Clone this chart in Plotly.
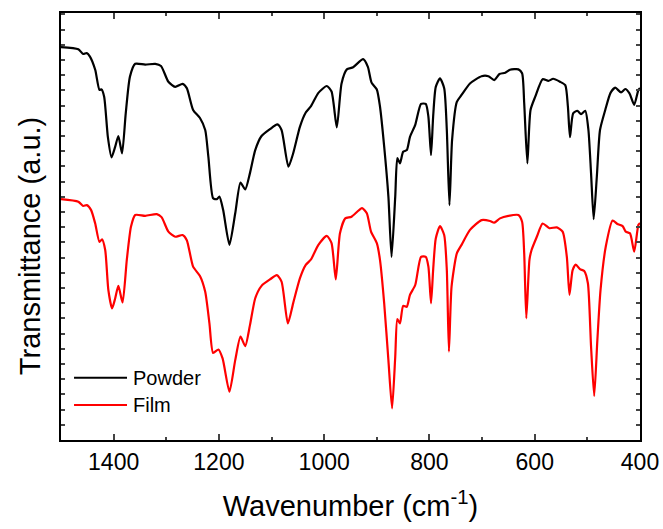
import plotly.graph_objects as go

# Wavenumber (cm^-1) and transmittance (a.u.)
powder_wn = [1500, 1467, 1458, 1451, 1445, 1435, 1427, 1423, 1418, 1411, 1404, 1397, 1391, 1384,
             1377, 1369, 1359, 1340, 1321, 1310, 1296, 1283, 1269, 1261, 1249, 1236, 1226, 1220,
             1211, 1204, 1199, 1192, 1180, 1169, 1159, 1150, 1141, 1131, 1119, 1103, 1089, 1081,
             1068, 1059, 1046, 1035, 1025, 1011, 995, 986, 976, 967, 957, 945, 926, 917, 910, 900,
             894, 886, 878, 872, 865, 861, 856, 850, 843, 837, 827, 816, 807, 802, 797, 793, 788,
             780, 772, 767, 762, 757, 748, 739, 723, 701, 688, 677, 667, 656, 647, 631, 624, 620,
             614, 608, 599, 585, 574, 565, 552, 542, 537, 533, 527, 519, 512, 504, 498, 493, 488,
             482, 476, 466, 456, 447, 436, 428, 420, 411, 403, 400]
powder_t = [92.0, 91.5, 90.4, 90.6, 89.8, 86.7, 82.0, 82.1, 80.4, 71.0, 66.2, 68.7, 71.2, 67.1,
            76.5, 85.1, 88.1, 87.9, 88.1, 87.6, 83.9, 82.7, 83.4, 82.4, 77.3, 75.4, 72.6, 66.3,
            56.6, 56.4, 57.0, 53.9, 45.7, 53.1, 60.3, 58.7, 62.5, 67.9, 71.2, 72.8, 73.9, 72.6,
            64.0, 67.1, 73.4, 76.7, 78.2, 81.3, 82.9, 81.6, 73.2, 83.5, 86.8, 87.3, 89.2, 87.4, 83.7, 82.1,
            78.1, 68.7, 57.0, 42.9, 57.0, 66.0, 64.8, 67.5, 67.9, 71.0, 73.8, 78.7, 78.7, 75.7, 66.7, 75.7, 82.7,
            84.7, 82.4, 72.6, 55.0, 70.3, 79.2, 80.8, 83.5, 85.2, 85.2, 84.3, 85.7, 86.0, 86.7, 86.8, 85.9, 78.9,
            64.8, 77.3, 80.4, 84.5, 84.1, 84.6, 83.9, 83.1, 78.1, 70.9, 76.5, 77.1, 76.3, 77.1, 72.6, 62.5, 51.7,
            61.7, 72.6, 77.3, 81.3, 82.5, 81.4, 82.2, 81.2, 78.5, 82.0, 82.4]

film_wn = [1500, 1467, 1458, 1451, 1443, 1435, 1427, 1422, 1416, 1410, 1403, 1397, 1391, 1383,
           1375, 1367, 1359, 1340, 1318, 1309, 1296, 1283, 1269, 1261, 1249, 1236, 1226, 1218,
           1211, 1201, 1193, 1180, 1169, 1159, 1150, 1141, 1131, 1119, 1103, 1090, 1081, 1069,
           1059, 1046, 1035, 1025, 1011, 995, 986, 978, 970, 960, 948, 928, 919, 911, 900, 894,
           886, 878, 871, 865, 861, 856, 850, 843, 837, 827, 816, 807, 802, 797, 793, 788, 780,
           772, 767, 763, 758, 748, 739, 723, 701, 685, 677, 666, 650, 631, 624, 620, 616, 610,
           606, 596, 585, 572, 558, 547, 539, 534, 528, 522, 514, 506, 499, 493, 487, 481, 475,
           465, 452, 443, 433, 427, 419, 411, 403, 400]
film_t = [56.4, 55.8, 54.8, 55.0, 53.9, 50.7, 46.4, 47.0, 44.5, 35.1, 30.8, 33.2, 36.1, 32.2,
          42.2, 50.0, 52.7, 52.5, 52.9, 52.2, 48.8, 47.6, 48.0, 46.8, 40.6, 38.4, 34.7, 27.3,
          20.4, 21.2, 19.1, 11.3, 18.7, 24.2, 22.0, 26.9, 33.2, 36.1, 37.6, 38.6, 37.1, 27.3,
          32.0, 37.9, 41.0, 42.3, 45.7, 47.8, 46.1, 37.6, 48.4, 51.9, 52.3, 54.3, 53.1, 48.8, 46.1, 42.2,
          32.0, 18.7, 7.4, 19.5, 28.3, 27.3, 31.4, 31.2, 34.0, 36.3, 42.9, 42.9, 40.6, 32.0, 39.8, 47.2, 50.1,
          48.0, 39.8, 20.7, 35.9, 43.7, 45.7, 49.2, 51.5, 51.3, 50.9, 51.9, 52.5, 52.7, 51.1, 43.7, 28.5, 42.2,
          44.5, 47.6, 50.7, 49.6, 49.8, 48.8, 42.9, 34.0, 39.8, 41.1, 40.0, 39.6, 36.7, 21.9, 10.3, 23.4, 35.1,
          45.3, 51.4, 50.6, 50.1, 48.8, 48.4, 44.1, 50.4, 50.8]

x_ticks = [1400, 1200, 1000, 800, 600, 400]
series_names = ["Powder", "Film"]
series_colors = ["black", "#ff0000"]

FONT = "Liberation Sans, Arial, sans-serif"

fig = go.Figure()
for name, wn, t, col in [(series_names[0], powder_wn, powder_t, series_colors[0]),
                         (series_names[1], film_wn, film_t, series_colors[1])]:
    fig.add_trace(go.Scatter(x=wn, y=t, mode="lines", name=name, showlegend=False,
                             line=dict(color=col, width=2.2, shape="spline", smoothing=0.6)))

# manual legend (longer sample lines like the reference)
legend_y = [0.146, 0.082]
for name, col, ly in zip(series_names, series_colors, legend_y):
    fig.add_shape(type="line", xref="paper", yref="paper", x0=0.0225, x1=0.114, y0=ly, y1=ly,
                  line=dict(color=col, width=2))
    fig.add_annotation(xref="paper", yref="paper", x=0.121, y=ly, text=name, showarrow=False,
                       xanchor="left", yanchor="middle", font=dict(size=20, family=FONT, color="black"))

# y-axis title placed like the reference
fig.add_annotation(xref="paper", yref="paper", x=-0.0535, y=0.454, text="Transmittance (a.u.)",
                   textangle=-90, showarrow=False, xanchor="center", yanchor="middle",
                   font=dict(size=29, family=FONT, color="black"))

fig.update_layout(
    width=663, height=529,
    margin=dict(l=61, r=23, t=13, b=89, autoexpand=False),
    paper_bgcolor="white", plot_bgcolor="white",
    font=dict(family=FONT, color="black"),
    showlegend=False,
    xaxis=dict(range=[1500, 400], tickvals=x_ticks, ticks="inside", ticklen=6, tickwidth=1.5,
               showline=True, linewidth=2, linecolor="black", mirror="allticks",
               showgrid=False, zeroline=False, tickfont=dict(size=23, family=FONT),
               ticklabelstandoff=0, automargin=False,
               minor=dict(dtick=100, tick0=0, ticks="inside", ticklen=3, tickwidth=1.5),
               title=dict(text="Wavenumber (cm<sup>-1</sup>)", font=dict(size=29, family=FONT), standoff=22)),
    yaxis=dict(range=[0, 100], tick0=0, dtick=3.56, ticks="inside", ticklen=4, tickwidth=1.5,
               showticklabels=False, showline=True, linewidth=2, linecolor="black",
               mirror="allticks", showgrid=False, zeroline=False, automargin=False),
)

fig.write_html("out.html")
